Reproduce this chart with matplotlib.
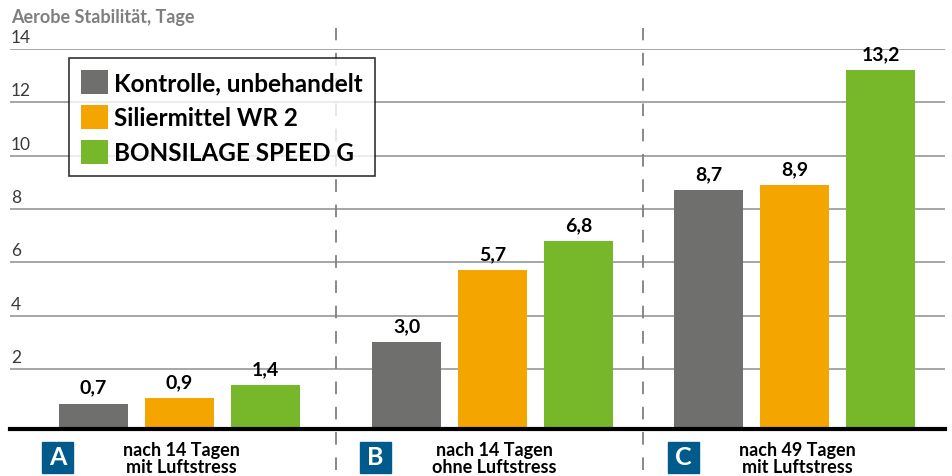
import numpy as np
import matplotlib.pyplot as plt
from matplotlib.patches import Patch, Rectangle
from matplotlib.lines import Line2D

plt.rcParams['font.family'] = ['Lato', 'DejaVu Sans']

# data
series = ['Kontrolle, unbehandelt', 'Siliermittel WR 2', 'BONSILAGE SPEED G']
colors = ['#6f6f6e', '#f5a500', '#76b82a']
groups = ['A', 'B', 'C']
group_labels = ['nach 14 Tagen\nmit Luftstress',
                'nach 14 Tagen\nohne Luftstress',
                'nach 49 Tagen\nmit Luftstress']
kontrolle = [0.7, 3.0, 8.7]
wr2 = [0.9, 5.7, 8.9]
speed_g = [1.4, 6.8, 13.2]
yticks = [2, 4, 6, 8, 10, 12, 14]

# layout (pixel-like x units)
W, H = 952, 477
group_x = [179.5, 492.5, 795.0]
offsets = [-86, 0, 86]
bar_w = 69
box_x = [42, 360, 668]
sep_x = [336, 643]
y0 = -0.25

fig = plt.figure(figsize=(W / 100, H / 100), dpi=100)
ax = fig.add_axes([10 / W, (H - 430) / H, 935 / W, 380 / H])
ax.set_xlim(10, 945)
ax.set_ylim(y0, 14)

for gy in yticks:
    ax.axhline(gy, color='#a6a6a6', lw=1.4, zorder=0)
    ax.text(11, gy + 0.15, str(gy), fontsize=12.5, color='#3a3a3a',
            ha='left', va='bottom')

for vals, col, off in zip([kontrolle, wr2, speed_g], colors, offsets):
    xs = np.array(group_x) + off
    ax.bar(xs, np.array(vals) - y0, bottom=y0, width=bar_w, color=col, zorder=2)
    for x, v in zip(xs, vals):
        ax.text(x, v + 0.3, f'{v:.1f}'.replace('.', ','), ha='center', va='bottom',
                fontsize=14, fontweight='bold', color='black')

ax.axhline(y0, color='black', lw=3, zorder=3, clip_on=False)

for sx in sep_x:
    ax.add_line(Line2D([sx, sx], [-1.8, 14.8], color='#808080', lw=1.3,
                       linestyle=(0, (7, 7)), clip_on=False, zorder=1))

for gx, bx, g, lab in zip(group_x, box_x, groups, group_labels):
    fig.add_artist(Rectangle((bx / W, (H - 474) / H), 31 / W, 31 / H,
                             transform=fig.transFigure, color='#005b8c'))
    fig.text((bx + 15.5) / W, (H - 458) / H, g, color='white', fontsize=18,
             fontweight='bold', ha='center', va='center')
    fig.text((gx + 2) / W, (H - 459) / H, lab, ha='center', va='center',
             fontsize=13, fontweight='bold', linespacing=1.05)

for s in ax.spines.values():
    s.set_visible(False)
ax.set_xticks([])
ax.set_yticks([])

fig.text(11 / W, 1 - 18 / H, 'Aerobe Stabilität, Tage', color='#7f7f7f',
         fontsize=13, fontweight='bold', ha='left', va='center')

handles = [Patch(facecolor=c, edgecolor='none') for c in colors]
leg = fig.legend(handles, series, loc='upper left',
                 bbox_to_anchor=(69 / W, 1 - 59 / H), bbox_transform=fig.transFigure,
                 borderaxespad=0, frameon=True, fancybox=False,
                 prop={'weight': 'bold', 'size': 17.5},
                 handlelength=1.12, handleheight=1.12, handletextpad=0.25,
                 labelspacing=0.45, borderpad=0.5)
leg.get_frame().set_edgecolor('black')
leg.get_frame().set_linewidth(1.2)
leg.set_zorder(5)

fig.savefig('out.png', dpi=100)
